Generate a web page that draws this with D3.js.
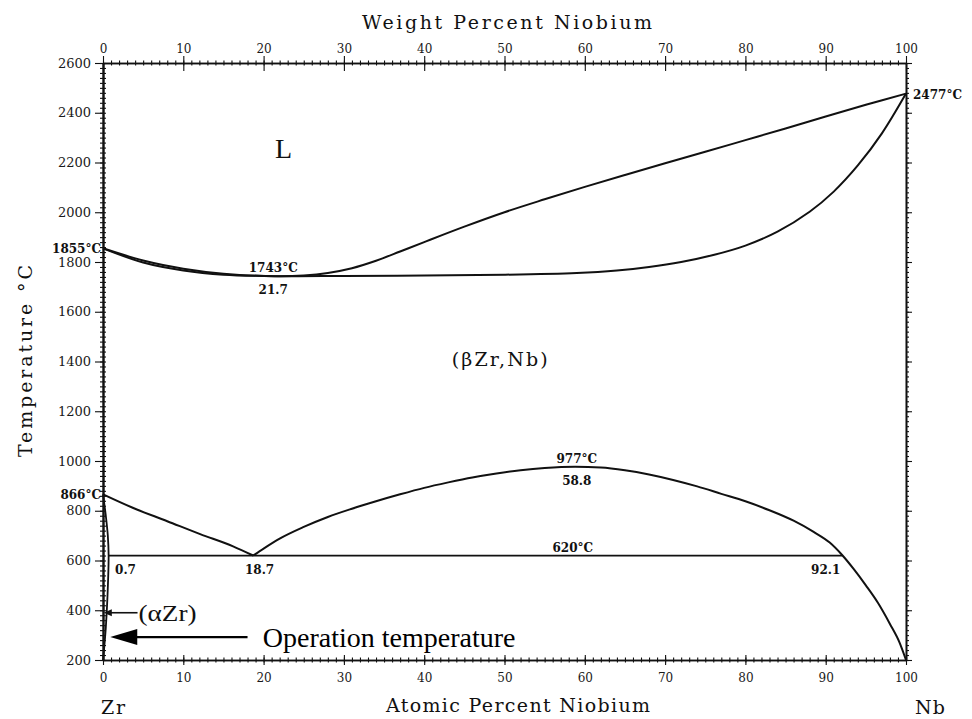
<!DOCTYPE html>
<html><head><meta charset="utf-8">
<script src="https://cdn.jsdelivr.net/npm/d3@7/dist/d3.min.js"></script>
<style>body{margin:0;background:#fff} svg{display:block}</style>
</head><body>
<svg id="chart" width="972" height="719"></svg>
<script>
// ---------- data ----------
const tempTicks = [200,400,600,800,1000,1200,1400,1600,1800,2000,2200,2400,2600];
const atomicTicks = [0,10,20,30,40,50,60,70,80,90,100];
const weightTicks = [0,10,20,30,40,50,60,70,80,90,100];

const liquidus = [[0,1855],[5,1806],[10,1773],[15,1753],[21.7,1743],[25,1746],[28,1756],[31,1775],[34,1805],[37,1842],[40,1880],[45,1942],[50,2000],[55,2052],[60,2102],[65,2150],[70,2197],[75,2243],[80,2290],[85,2337],[90,2385],[95,2432],[100,2477]];
const solidus = [[0,1855],[5,1798],[10,1766],[15,1749],[21.7,1743],[30,1744],[40,1746],[50,1749],[59,1756],[64,1766],[68,1780],[72,1800],[76,1828],[80,1866],[84,1922],[88,2002],[91,2083],[94,2188],[97,2317],[100,2477]];
const betaTransus = [[0,866],[3.7,812],[8,758],[12.1,706],[16.2,657],[18.7,620]];
const alphaBoundary = [[0,866],[0.35,780],[0.6,700],[0.7,620],[0.55,450],[0.35,330],[0.15,250],[0,200]];
const miscibilityGap = [[18.7,620],[20,648],[22,688],[25,735],[28,775],[31,808],[34,838],[37,866],[40,892],[43,914],[46,934],[49,950],[52,963],[55,972],[58.8,977],[62,974],[65,963],[68,946],[71,924],[74,898],[77,868],[80,838],[83,802],[86,760],[88.5,715],[90.5,672],[92.1,620],[93.5,565],[95,500],[96.5,430],[98,345],[99.2,270],[100,200]];
const monotectoid = [[0.7,620],[92.1,620]];

const pointLabels = [
  {text:"1855°C", x:0, T:1855, side:"left"},
  {text:"866°C", x:0, T:866, side:"left"},
  {text:"2477°C", x:100, T:2477, side:"right"},
  {text:"1743°C", x:21.2, T:1743, side:"above"},
  {text:"21.7", x:21.2, T:1743, side:"below"},
  {text:"977°C", x:59, T:977, side:"above"},
  {text:"58.8", x:59, T:977, side:"below"},
  {text:"620°C", x:58.5, T:620, side:"above"},
  {text:"0.7", x:2.8, T:620, side:"below"},
  {text:"18.7", x:19.5, T:620, side:"below"},
  {text:"92.1", x:90, T:620, side:"below"}
];
const phaseL = {text:"L", x:22.5, T:2218};
const phaseBeta = {text:"(\u03B2Zr,Nb)", x:49.4, T:1382};
const alphaNote = {text:"(\u03B1Zr)", tipX:0.1, tailX:4.3, T:390};
const operationNote = {text:"Operation temperature", tipX:0.9, tailX:18, textX:19.9, T:292};

// ---------- drawing ----------
const svg = d3.select("#chart");
const x = d3.scaleLinear().domain([0,100]).range([103,906]);
const y = d3.scaleLinear().domain([200,2600]).range([660,63]);
const ink = "#111";
const tickFont = "'DejaVu Serif', serif";

function styleAxis(g, size){
  g.select(".domain").attr("stroke", ink).attr("stroke-width", 1.6);
  g.selectAll(".tick line").attr("stroke", ink).attr("stroke-width", 1.1);
  g.selectAll(".tick text").attr("fill", "#1a1a1a").style("font-family", tickFont).style("font-size", size+"px");
}

// minor ticks
const minorT = d3.range(200, 2601, 20);
const minorC = d3.range(0, 101, 1);

const gLm = svg.append("g").attr("transform", `translate(${x(0)},0)`)
  .call(d3.axisLeft(y).tickValues(minorT).tickSize(3).tickSizeOuter(0).tickFormat(""));
gLm.selectAll(".tick line").attr("x1", 3);
styleAxis(gLm, 12);
const gRm = svg.append("g").attr("transform", `translate(${x(100)},0)`)
  .call(d3.axisRight(y).tickValues(minorT).tickSize(3).tickSizeOuter(0).tickFormat(""));
styleAxis(gRm, 12);
const gTm = svg.append("g").attr("transform", `translate(0,${y(2600)})`)
  .call(d3.axisTop(x).tickValues(minorC).tickSize(2.5).tickSizeOuter(0).tickFormat(""));
gTm.selectAll(".tick line").attr("y1", 2.5);
styleAxis(gTm, 12);
const gBm = svg.append("g").attr("transform", `translate(0,${y(200)})`)
  .call(d3.axisBottom(x).tickValues(minorC).tickSize(2.5).tickSizeOuter(0).tickFormat(""));
gBm.selectAll(".tick line").attr("y1", -2.5);
styleAxis(gBm, 12);

// major ticks + labels
const gL = svg.append("g").attr("transform", `translate(${x(0)},0)`)
  .call(d3.axisLeft(y).tickValues(tempTicks).tickSize(8).tickPadding(4).tickSizeOuter(0).tickFormat(d3.format("d")));
styleAxis(gL, 13);
gL.select(".domain").attr("stroke-width", 2.2);
const gR = svg.append("g").attr("transform", `translate(${x(100)},0)`)
  .call(d3.axisRight(y).tickValues(tempTicks).tickSize(6).tickSizeOuter(0).tickFormat(""));
styleAxis(gR, 12);
const gT = svg.append("g").attr("transform", `translate(0,${y(2600)})`)
  .call(d3.axisTop(x).tickValues(weightTicks).tickSize(7).tickPadding(3).tickSizeOuter(0).tickFormat(d3.format("d")));
gT.selectAll(".tick line").attr("y1", 8);
styleAxis(gT, 12);
const gB = svg.append("g").attr("transform", `translate(0,${y(200)})`)
  .call(d3.axisBottom(x).tickValues(atomicTicks).tickSize(5).tickPadding(8).tickSizeOuter(0).tickFormat(d3.format("d")));
gB.selectAll(".tick line").attr("y1", -5);
styleAxis(gB, 12);

// axis titles
const titleFont = "'DejaVu Serif', serif";
svg.append("text").attr("x", 362).attr("y", 29).attr("textLength", 290).attr("lengthAdjust","spacing")
  .style("font-family", titleFont).style("font-size","19px").attr("fill", ink).text("Weight Percent Niobium");
svg.append("text").attr("x", 386).attr("y", 712).attr("textLength", 264).attr("lengthAdjust","spacing")
  .style("font-family", titleFont).style("font-size","19px").attr("fill", ink).text("Atomic Percent Niobium");
svg.append("text").attr("transform","translate(32,457) rotate(-90)").attr("textLength", 192).attr("lengthAdjust","spacing")
  .style("font-family", titleFont).style("font-size","19px").attr("fill", ink).text("Temperature °C");
svg.append("text").attr("x", 101).attr("y", 714).attr("textLength", 24).attr("lengthAdjust","spacing")
  .style("font-family", titleFont).style("font-size","19px").attr("fill", ink).text("Zr");
svg.append("text").attr("x", 915).attr("y", 714).attr("textLength", 30).attr("lengthAdjust","spacing")
  .style("font-family", titleFont).style("font-size","19px").attr("fill", ink).text("Nb");

// phase boundaries
const smoothMono = d3.line().x(d => x(d[0])).y(d => y(d[1])).curve(d3.curveMonotoneX);
const smoothXY = d3.line().x(d => x(d[0])).y(d => y(d[1])).curve(d3.curveCatmullRom.alpha(0.5));
const straight = d3.line().x(d => x(d[0])).y(d => y(d[1]));
const curves = svg.append("g").attr("fill","none").attr("stroke", ink).attr("stroke-linejoin","round");
[liquidus, solidus].forEach(c =>
  curves.append("path").attr("d", smoothXY(c)).attr("stroke-width", 2));
[betaTransus, miscibilityGap].forEach(c =>
  curves.append("path").attr("d", smoothMono(c)).attr("stroke-width", 2));
curves.append("path").attr("d", smoothXY(alphaBoundary)).attr("stroke-width", 1.8);
curves.append("path").attr("d", straight(monotectoid)).attr("stroke-width", 1.8);

// point labels
const labFont = "'DejaVu Serif', serif";
svg.append("g").selectAll("text").data(pointLabels).join("text")
  .attr("x", d => x(d.x) + (d.side==="left" ? -2 : d.side==="right" ? 7 : 0))
  .attr("y", d => y(d.T) + (d.side==="above" ? -4 : d.side==="below" ? 18 : 5))
  .attr("text-anchor", d => d.side==="left" ? "end" : d.side==="right" ? "start" : "middle")
  .style("font-family", labFont).style("font-size","12px").style("font-weight","bold")
  .attr("fill", ink).text(d => d.text);

// phase names
svg.append("text").attr("x", x(phaseL.x)).attr("y", y(phaseL.T)).attr("text-anchor","middle")
  .style("font-family","'Liberation Serif', serif").style("font-size","28px").attr("fill", ink).text(phaseL.text);
svg.append("text").attr("x", x(phaseBeta.x)).attr("y", y(phaseBeta.T)).attr("text-anchor","middle")
  .attr("textLength", 96).attr("lengthAdjust","spacing")
  .style("font-family", titleFont).style("font-size","19px").attr("fill", ink).text(phaseBeta.text);

// (αZr) note with small arrow
const ay = y(alphaNote.T);
svg.append("line").attr("x1", x(alphaNote.tailX)).attr("x2", x(alphaNote.tipX)+6).attr("y1", ay).attr("y2", ay)
  .attr("stroke", ink).attr("stroke-width", 1.6);
svg.append("path").attr("d", `M${x(alphaNote.tipX)},${ay} l8,-3.5 l0,7 Z`).attr("fill", ink);
svg.append("text").attr("x", x(alphaNote.tailX)+1).attr("y", ay+8).attr("textLength", 58).attr("lengthAdjust","spacingAndGlyphs")
  .style("font-family","'Liberation Serif', serif").style("font-size","24px").attr("fill", ink).text(alphaNote.text);

// Operation temperature arrow
const oy = y(operationNote.T);
svg.append("line").attr("x1", x(operationNote.tailX)).attr("x2", x(operationNote.tipX)+20).attr("y1", oy).attr("y2", oy)
  .attr("stroke", "#000").attr("stroke-width", 2.4);
svg.append("path").attr("d", `M${x(operationNote.tipX)},${oy} l27,-8 l0,16 Z`).attr("fill", "#000");
svg.append("text").attr("x", x(operationNote.textX)).attr("y", oy+10)
  .style("font-family","'Liberation Serif', 'Times New Roman', serif").style("font-size","28px").attr("fill", "#000")
  .text(operationNote.text);
</script>
</body></html>
